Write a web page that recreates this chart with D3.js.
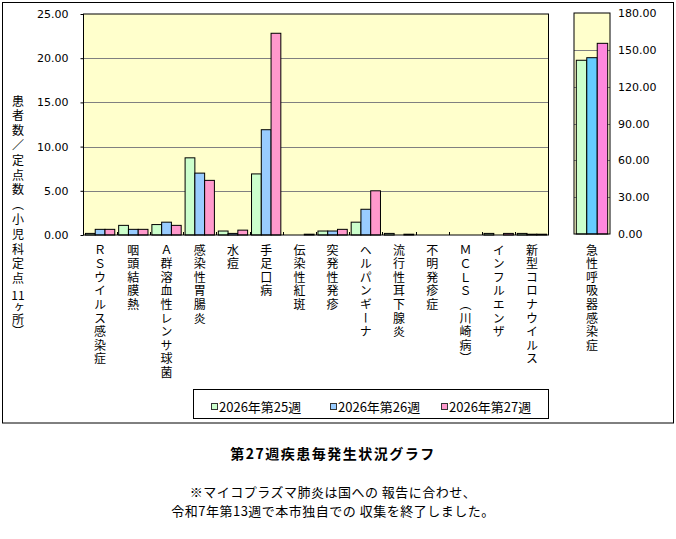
<!DOCTYPE html>
<html>
<head>
<meta charset="utf-8">
<script src="https://cdn.jsdelivr.net/npm/d3@7"></script>
<style>
  body { margin: 0; background: #fff; }
  text { font-family: "Noto Sans CJK JP", sans-serif; }
  .vert { writing-mode: vertical-rl; text-orientation: upright; }
</style>
</head>
<body>
<svg id="chart" width="676" height="539"></svg>
<script>
let svg = d3.select("#chart");

// data
let categories = ["ＲＳウイルス感染症", "咽頭結膜熱", "Ａ群溶血性レンサ球菌", "感染性胃腸炎", "水痘", "手足口病",
  "伝染性紅斑", "突発性発疹", "ヘルパンギーナ", "流行性耳下腺炎", "不明発疹症", "ＭＣＬＳ（川崎病）",
  "インフルエンザ", "新型コロナウイルス"];
let weeks = ["2026年第25週", "2026年第26週", "2026年第27週"];
let week25 = [0.18, 1.09, 1.18, 8.73, 0.45, 6.91, 0, 0.45, 1.45, 0.18, 0, 0, 0.18, 0.18];
let week26 = [0.64, 0.64, 1.45, 7.00, 0.18, 11.91, 0, 0.45, 2.91, 0, 0, 0, 0, 0.09];
let week27 = [0.64, 0.64, 1.09, 6.18, 0.55, 22.82, 0.09, 0.64, 5.00, 0.09, 0, 0, 0.18, 0.09];
let rightCategory = ["急性呼吸器感染症"];
let rightValues = [141.5, 143.6, 155.3];
let leftTicks = [0, 5, 10, 15, 20, 25];
let rightTicks = [0, 30, 60, 90, 120, 150, 180];
let yTitleParts = ["患者数／定点数（小児科定点", "11", "ヶ所）"];
let chartTitle = "第27週疾患毎発生状況グラフ";
let notes = ["※マイコプラズマ肺炎は国への 報告に合わせ、", "令和7年第13週で本市独自での 収集を終了しました。"];

let leftColors = ["#ccffcc", "#99ccff", "#ff99cc"];
let rightColors = ["#ccffcc", "#66ccff", "#ff88dd"];

// outer frame
svg.append("rect").attr("x", 2.5).attr("y", 2.5).attr("width", 671).attr("height", 420.5)
   .attr("fill", "none").attr("stroke", "#000");

// ---- left chart ----
let L = { x0: 83.5, x1: 548.5, y0: 14, y1: 235 };
let xScale = d3.scaleBand().domain(categories).range([L.x0, L.x1]);
let yScale = d3.scaleLinear().domain([0, 25]).range([L.y1, L.y0]);
let inner = d3.scaleBand().domain([0, 1, 2]).range([0, xScale.bandwidth()]).paddingOuter(0.2);

svg.append("rect").attr("x", L.x0).attr("y", L.y0).attr("width", L.x1 - L.x0).attr("height", L.y1 - L.y0)
   .attr("fill", "#ffffcc");

svg.append("g").selectAll("line").data(leftTicks.slice(1, -1)).enter().append("line")
   .attr("x1", L.x0).attr("x2", L.x1)
   .attr("y1", d => Math.round(yScale(d)) + 0.5).attr("y2", d => Math.round(yScale(d)) + 0.5)
   .attr("stroke", "#808080");

let series = [week25, week26, week27];
series.forEach((s, si) => {
  svg.append("g").selectAll("rect").data(s).enter().append("rect")
     .attr("x", (d, i) => xScale(categories[i]) + inner(si))
     .attr("width", inner.bandwidth())
     .attr("y", d => yScale(d))
     .attr("height", d => L.y1 - yScale(d))
     .attr("fill", leftColors[si])
     .attr("stroke", "#000").attr("stroke-width", 1)
     .style("display", d => d > 0 ? null : "none");
});

svg.append("rect").attr("x", L.x0).attr("y", L.y0).attr("width", L.x1 - L.x0).attr("height", L.y1 - L.y0)
   .attr("fill", "none").attr("stroke", "#000");

let yAxis = d3.axisLeft(yScale).tickValues(leftTicks).tickFormat(d3.format(".2f")).tickSize(3).tickPadding(12);
let gy = svg.append("g").attr("transform", `translate(${L.x0},0)`).call(yAxis);
gy.select(".domain").remove();
gy.selectAll("text").style("font-family", "'DejaVu Sans', sans-serif").style("font-size", "11px").attr("fill", "#000");

// category ticks
svg.append("g").selectAll("line").data(categories.slice(1)).enter().append("line")
   .attr("x1", d => Math.round(xScale(d)) + 0.5).attr("x2", d => Math.round(xScale(d)) + 0.5)
   .attr("y1", L.y1 - 3).attr("y2", L.y1).attr("stroke", "#000");

// vertical labels
function vertical(label, cx, y0, spacing) {
  return svg.append("text").attr("class", "vert")
    .attr("x", cx).attr("y", y0)
    .style("font-size", "12px").style("letter-spacing", spacing + "px").attr("fill", "#000")
    .text(label);
}
categories.forEach(c => vertical(c, xScale(c) + xScale.bandwidth() / 2, 244, 1.6));

// y title
vertical(yTitleParts[0], 18, 95, 2.8);
svg.append("text").attr("x", 18).attr("y", 294).attr("text-anchor", "middle")
   .attr("dominant-baseline", "central").style("font-size", "12px").text(yTitleParts[1]);
vertical(yTitleParts[2], 18, 301, 0);

// ---- right chart ----
let R = { x0: 574, x1: 610, y0: 13, y1: 234 };
let xR = d3.scaleBand().domain(rightCategory).range([R.x0, R.x1]);
let yR = d3.scaleLinear().domain([0, 180]).range([R.y1, R.y0]);
let innerR = d3.scaleBand().domain([0, 1, 2]).range([0, xR.bandwidth()]).paddingOuter(0.22);

svg.append("rect").attr("x", R.x0).attr("y", R.y0).attr("width", R.x1 - R.x0).attr("height", R.y1 - R.y0)
   .attr("fill", "#ffffcc");
svg.append("g").selectAll("line").data(rightTicks.slice(1, -1)).enter().append("line")
   .attr("x1", R.x0).attr("x2", R.x1)
   .attr("y1", d => Math.round(yR(d)) + 0.5).attr("y2", d => Math.round(yR(d)) + 0.5)
   .attr("stroke", "#808080");
svg.append("g").selectAll("rect").data(rightValues).enter().append("rect")
   .attr("x", (d, i) => xR(rightCategory[0]) + innerR(i))
   .attr("width", innerR.bandwidth())
   .attr("y", d => yR(d))
   .attr("height", d => R.y1 - yR(d))
   .attr("fill", (d, i) => rightColors[i])
   .attr("stroke", "#000");
svg.append("rect").attr("x", R.x0).attr("y", R.y0).attr("width", R.x1 - R.x0).attr("height", R.y1 - R.y0)
   .attr("fill", "none").attr("stroke", "#000");

let yAxisR = d3.axisRight(yR).tickValues(rightTicks).tickFormat(d3.format(".2f")).tickSize(0).tickPadding(8);
let gr = svg.append("g").attr("transform", `translate(${R.x1},0)`).call(yAxisR);
gr.select(".domain").remove();
gr.selectAll("text").style("font-family", "'DejaVu Sans', sans-serif").style("font-size", "11px").attr("fill", "#000");

vertical(rightCategory[0], xR(rightCategory[0]) + xR.bandwidth() / 2, 244, 1.6);

// ---- legend ----
let lg = svg.append("g");
lg.append("rect").attr("x", 193.5).attr("y", 389.5).attr("width", 355).attr("height", 29)
  .attr("fill", "#fff").attr("stroke", "#000");
let legendX = [211, 330, 441];
weeks.forEach((w, i) => {
  lg.append("rect").attr("x", legendX[i] + 0.5).attr("y", 403.5).attr("width", 6).attr("height", 6)
    .attr("fill", leftColors[i]).attr("stroke", "#333");
  lg.append("text").attr("x", legendX[i] + 8).attr("y", 406.5)
    .attr("dominant-baseline", "central").style("font-size", "13px").text(w);
});

// ---- title + notes ----
svg.append("text").attr("x", 333).attr("y", 453).attr("text-anchor", "middle")
   .attr("dominant-baseline", "central").style("font-size", "14px").style("font-weight", "bold")
   .style("letter-spacing", "1.5px").text(chartTitle);
svg.append("g").selectAll("text").data(notes).enter().append("text")
   .attr("x", 333).attr("y", (d, i) => 491 + i * 19).attr("text-anchor", "middle")
   .attr("dominant-baseline", "central").style("font-size", "13px").style("letter-spacing", "0.5px")
   .text(d => d);
</script>
</body>
</html>
